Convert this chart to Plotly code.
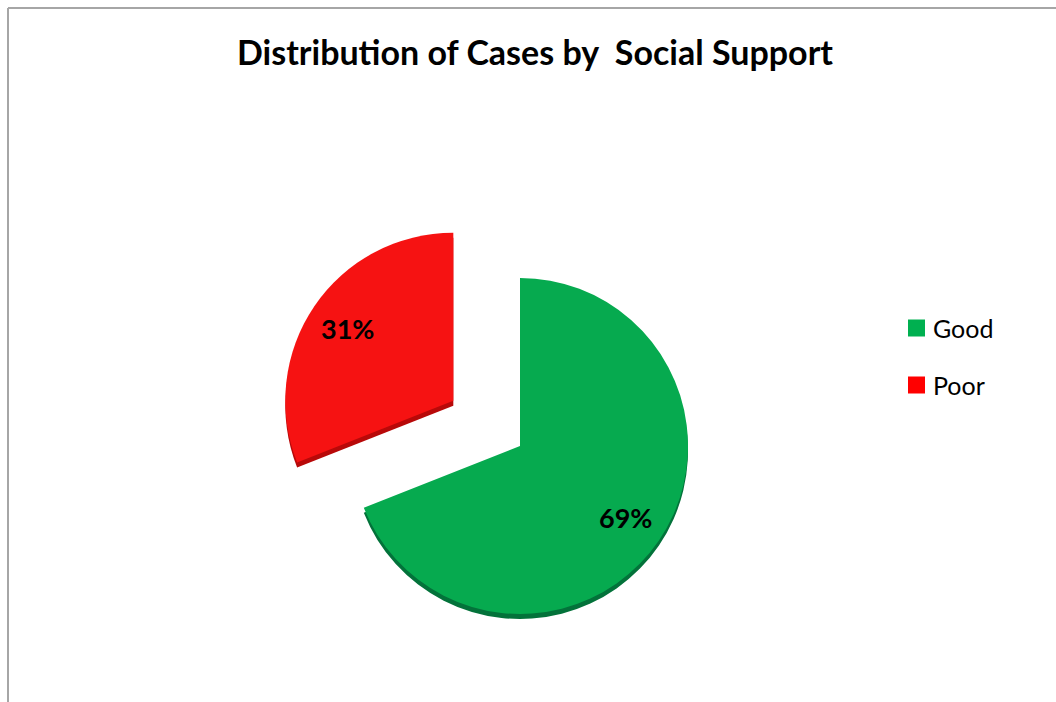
import math
import plotly.graph_objects as go

# Social support categories and their share of cases (%)
labels = ["Good", "Poor"]
shares = [69, 31]
colors = ["#06aa4f", "#f61212"]
legend_colors = ["#00b050", "#ff0000"]
rim_colors = ["#03723a", "#b80909"]
pulls = [0, 0.48]

W, H = 1056, 702
FONT = "Lato, Open Sans, sans-serif"

# pie placement in pixels (centre and radius), converted to paper coords
cx, cy, r = 520, 446, 168
half = r * (1 + max(pulls))


def dom(dy=0):
    return dict(
        x=[(cx - half) / W, (cx + half) / W],
        y=[1 - (cy + dy + half) / H, 1 - (cy + dy - half) / H],
    )


fig = go.Figure()

# darker rim underneath to suggest thickness
fig.add_trace(go.Pie(
    labels=labels, values=shares, sort=False, direction="clockwise",
    rotation=0, pull=pulls, domain=dom(5),
    marker=dict(colors=rim_colors, line=dict(width=0)),
    textinfo="none", hoverinfo="skip", showlegend=False,
))

fig.add_trace(go.Pie(
    labels=labels, values=shares, sort=False, direction="clockwise",
    rotation=0, pull=pulls, domain=dom(0),
    marker=dict(colors=colors, line=dict(width=0)),
    textinfo="none", hovertemplate="%{label}: %{value}%<extra></extra>",
    showlegend=False,
))

annotations = []
shapes = []

# percentage labels placed along each slice's mid angle
total = sum(shares)
start = 0.0
for lab, val, p in zip(labels, shares, pulls):
    frac = val / total
    mid = 2 * math.pi * (start + frac / 2)
    start += frac
    dx, dy = math.sin(mid), -math.cos(mid)
    ox, oy = cx + dx * p * r, cy + dy * p * r
    lx, ly = ox + dx * 0.76 * r, oy + dy * 0.76 * r
    annotations.append(dict(
        x=lx / W, y=1 - ly / H, xref="paper", yref="paper",
        xanchor="center", yanchor="middle",
        text=f"<b>{val}%</b>", showarrow=False,
        font=dict(family=FONT, size=27, color="black"),
    ))

# legend: swatch + label per category
lg_x, lg_y, lg_step, sw = 908, 328, 57, 17
for i, (lab, col) in enumerate(zip(labels, legend_colors)):
    yc = lg_y + i * lg_step
    shapes.append(dict(
        type="rect", xref="paper", yref="paper",
        x0=lg_x / W, x1=(lg_x + sw) / W,
        y0=1 - (yc + sw / 2) / H, y1=1 - (yc - sw / 2) / H,
        fillcolor=col, line=dict(width=0),
    ))
    annotations.append(dict(
        x=(lg_x + sw + 6) / W, y=1 - yc / H, xref="paper", yref="paper",
        xanchor="left", yanchor="middle", text=lab, showarrow=False,
        font=dict(family=FONT, size=25, color="black"),
    ))

# chart frame (left and top edges)
shapes += [
    dict(type="line", xref="paper", yref="paper", x0=8 / W, x1=8 / W,
         y0=0, y1=1 - 8 / H, line=dict(color="#a6a6a6", width=2)),
    dict(type="line", xref="paper", yref="paper", x0=8 / W, x1=1,
         y0=1 - 8 / H, y1=1 - 8 / H, line=dict(color="#a6a6a6", width=2)),
]

fig.update_layout(
    width=W, height=H,
    margin=dict(l=0, r=0, t=0, b=0),
    paper_bgcolor="white",
    showlegend=False,
    title=dict(
        text="<b>Distribution of Cases by&nbsp; Social Support</b>",
        x=535 / W, xanchor="center", y=1 - 53 / H, yanchor="middle",
        font=dict(family=FONT, size=34, color="black"),
    ),
    annotations=annotations,
    shapes=shapes,
)

fig.write_html("out.html")
